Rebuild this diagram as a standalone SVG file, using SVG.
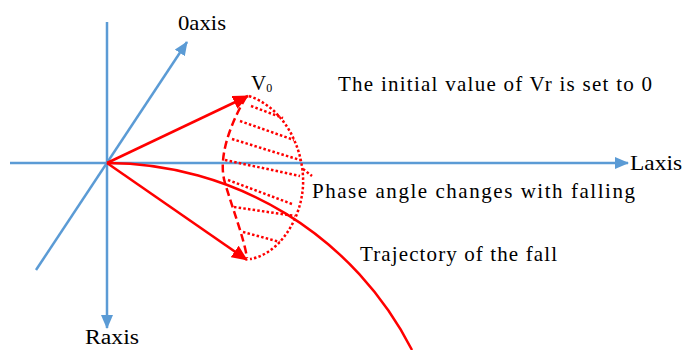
<svg xmlns="http://www.w3.org/2000/svg" width="683" height="350" viewBox="0 0 683 350">
<style>
.ax{stroke:#5B9BD5;stroke-width:2.5;fill:none}
.rd{stroke:#FF0000;stroke-width:2.5;fill:none}
.dash{stroke:#FF0000;stroke-width:2.5;fill:none;stroke-dasharray:8,4}
.dot{stroke:#FF0000;stroke-width:2.5;fill:none;stroke-dasharray:2.5,2.2}
.lbl{font-family:'Liberation Serif','Times New Roman',serif;font-size:21px;fill:#000000}
</style>
<defs>
<marker id="ba" markerUnits="userSpaceOnUse" markerWidth="14" markerHeight="12" refX="13" refY="6" orient="auto">
<path d="M0,0 L14,6 L0,12 Z" fill="#5B9BD5"/>
</marker>
<marker id="ra" markerUnits="userSpaceOnUse" markerWidth="16" markerHeight="14" refX="15" refY="7" orient="auto">
<path d="M0,0 L16,7 L0,14 Z" fill="#FF0000"/>
</marker>
</defs>
<g id="connectors">
<line class="ax" x1="107" y1="22" x2="107" y2="328" marker-end="url(#ba)"/>
<line class="ax" x1="10" y1="163" x2="628" y2="163" marker-end="url(#ba)"/>
<line class="ax" x1="36" y1="270" x2="187" y2="42" marker-end="url(#ba)"/>
<line class="rd" x1="107" y1="163" x2="248" y2="96" marker-end="url(#ra)"/>
<line class="rd" x1="107" y1="163" x2="247" y2="260" marker-end="url(#ra)"/>
<path class="rd" d="M107,163 A343,343 0 0 1 412,350"/>
</g>
<g id="phase-region">
<path class="dash" d="M246,97 C228,128 218,160 225,183 C233,210 244,238 247,258"/>
<path class="dot" d="M249,96 C290,110 308,160 302,195 C297,226 276,255 250,259"/>
<path class="dot" d="M303,169 L312,176"/>
<line class="dot" x1="251" y1="106" x2="283" y2="118"/>
<line class="dot" x1="240" y1="121" x2="294" y2="140"/>
<line class="dot" x1="232" y1="139" x2="300" y2="160"/>
<line class="dot" x1="225" y1="160" x2="300" y2="176"/>
<line class="dot" x1="228" y1="180" x2="292" y2="204"/>
<line class="dot" x1="234" y1="207" x2="295" y2="216"/>
<line class="dot" x1="243" y1="232" x2="280" y2="242"/>
</g>
<g id="label-0axis"><text class="lbl" x="178" y="30" textLength="48" lengthAdjust="spacingAndGlyphs">0axis</text></g>
<g id="label-v0"><text class="lbl" x="251" y="90">V<tspan font-size="12" dy="2">0</tspan></text></g>
<g id="label-initial"><text class="lbl" x="338" y="91" textLength="314" lengthAdjust="spacing">The initial value of Vr is set to 0</text></g>
<g id="label-laxis"><text class="lbl" x="630" y="170" textLength="52" lengthAdjust="spacingAndGlyphs">Laxis</text></g>
<g id="label-phase"><text class="lbl" x="312" y="198" textLength="323" lengthAdjust="spacing">Phase angle changes with falling</text></g>
<g id="label-trajectory"><text class="lbl" x="360" y="261" textLength="197" lengthAdjust="spacing">Trajectory of the fall</text></g>
<g id="label-raxis"><text class="lbl" style="font-size:20px" x="85" y="344" textLength="54" lengthAdjust="spacingAndGlyphs">Raxis</text></g>
</svg>
